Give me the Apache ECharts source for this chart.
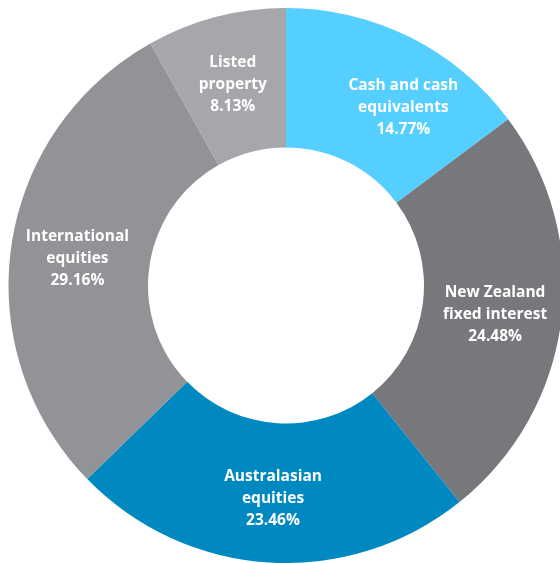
<!DOCTYPE html>
<html>
<head>
<meta charset="utf-8">
<script src="https://cdn.jsdelivr.net/npm/echarts@6/dist/echarts.min.js"></script>
<style>
  html, body { margin: 0; padding: 0; background: #fff; }
  #chart { width: 560px; height: 563px; }
</style>
</head>
<body>
<div id="chart"></div>
<script>
const categories = ['Cash and cash\nequivalents', 'New Zealand\nfixed interest', 'Australasian\nequities', 'International\nequities', 'Listed\nproperty']
const values = [14.77, 24.48, 23.46, 29.16, 8.13]
const colors = ['#55cfff', '#77787c', '#0089c0', '#929396', '#a6a7aa']

const chart = echarts.init(document.getElementById('chart'))
const option = {
  animation: false,
  series: [{
    type: 'pie',
    center: [286, 285.5],
    radius: [138, 277.5],
    startAngle: 90,
    clockwise: true,
    avoidLabelOverlap: false,
    label: {
      show: true,
      position: 'inner',
      color: '#fff',
      fontFamily: 'Open Sans',
      fontWeight: 'bold',
      fontSize: 15.5,
      lineHeight: 22,
      offset: [0, 3],
      formatter: p => p.name + '\n' + p.value.toFixed(2) + '%'
    },
    labelLine: { show: false },
    emphasis: { disabled: true },
    data: categories.map((name, i) => ({
      name,
      value: values[i],
      itemStyle: { color: colors[i] },
      // cash label sits further right in the original
      label: i === 0 ? { offset: [23, 11] } : {}
    }))
  }]
}
chart.setOption(option)
</script>
</body>
</html>
